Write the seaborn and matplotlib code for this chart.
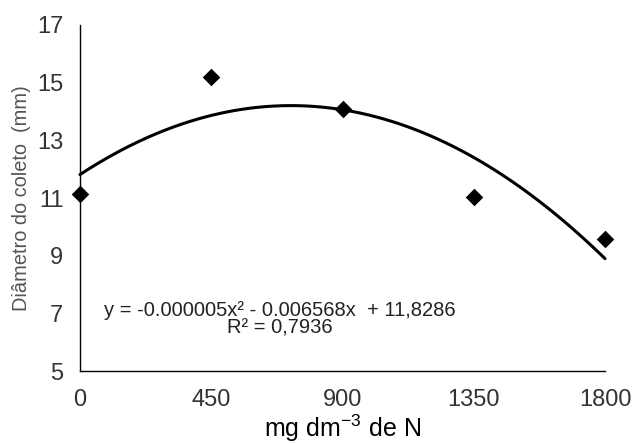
import seaborn as sns
import pandas as pd
import matplotlib.pyplot as plt

# doses de N (mg dm-3) e diametro do coleto (mm)
doses = [0, 450, 900, 1350, 1800]
diametro = [11.14, 15.2, 14.09, 11.03, 9.58]
x_ticks = [0, 450, 900, 1350, 1800]
y_ticks = [5, 7, 9, 11, 13, 15, 17]
equacao = "y = -0.000005x\u00b2 - 0.006568x  + 11,8286"
r2 = "R\u00b2 = 0,7936"

data = pd.DataFrame({"dose": doses, "diametro": diametro})

sns.set_style("white")
plt.rcParams['font.family'] = ['Liberation Sans', 'DejaVu Sans']
plt.rcParams['mathtext.default'] = 'regular'

fig = plt.figure(figsize=(6.33, 4.44), dpi=100)
ax = fig.add_axes([0.1264, 0.1644, 0.8294, 0.7793])

sns.regplot(data=data, x="dose", y="diametro", order=2, ci=None, ax=ax,
            marker="D", color="black",
            scatter_kws={"s": 80, "alpha": 1, "linewidths": 0,
                         "clip_on": False, "zorder": 3},
            line_kws={"linewidth": 2.2, "clip_on": False})

ax.set_xlim(0, 1800)
ax.set_ylim(5, 17)
ax.set_xticks(x_ticks)
ax.set_yticks(y_ticks)
ax.tick_params(axis="x", length=0, pad=13, labelsize=17, labelcolor="#333333")
ax.tick_params(axis="y", length=0, pad=12, labelsize=17, labelcolor="#333333")
sns.despine(ax=ax)
for s in ["left", "bottom"]:
    ax.spines[s].set_color("black")
    ax.spines[s].set_linewidth(1.0)

ax.set_xlabel("mg dm$^{-3}$ de N", fontsize=18, color="black", labelpad=1)
ax.set_ylabel("Di\u00e2metro do coleto  (mm)", fontsize=14.4, color="#555555", labelpad=4)

ax.text(0.381, 0.176, equacao, transform=ax.transAxes, ha="center", va="center",
        fontsize=14.5, color="#222222")
ax.text(0.381, 0.124, r2, transform=ax.transAxes, ha="center", va="center",
        fontsize=14.5, color="#222222")

fig.savefig("out.png", dpi=100)
